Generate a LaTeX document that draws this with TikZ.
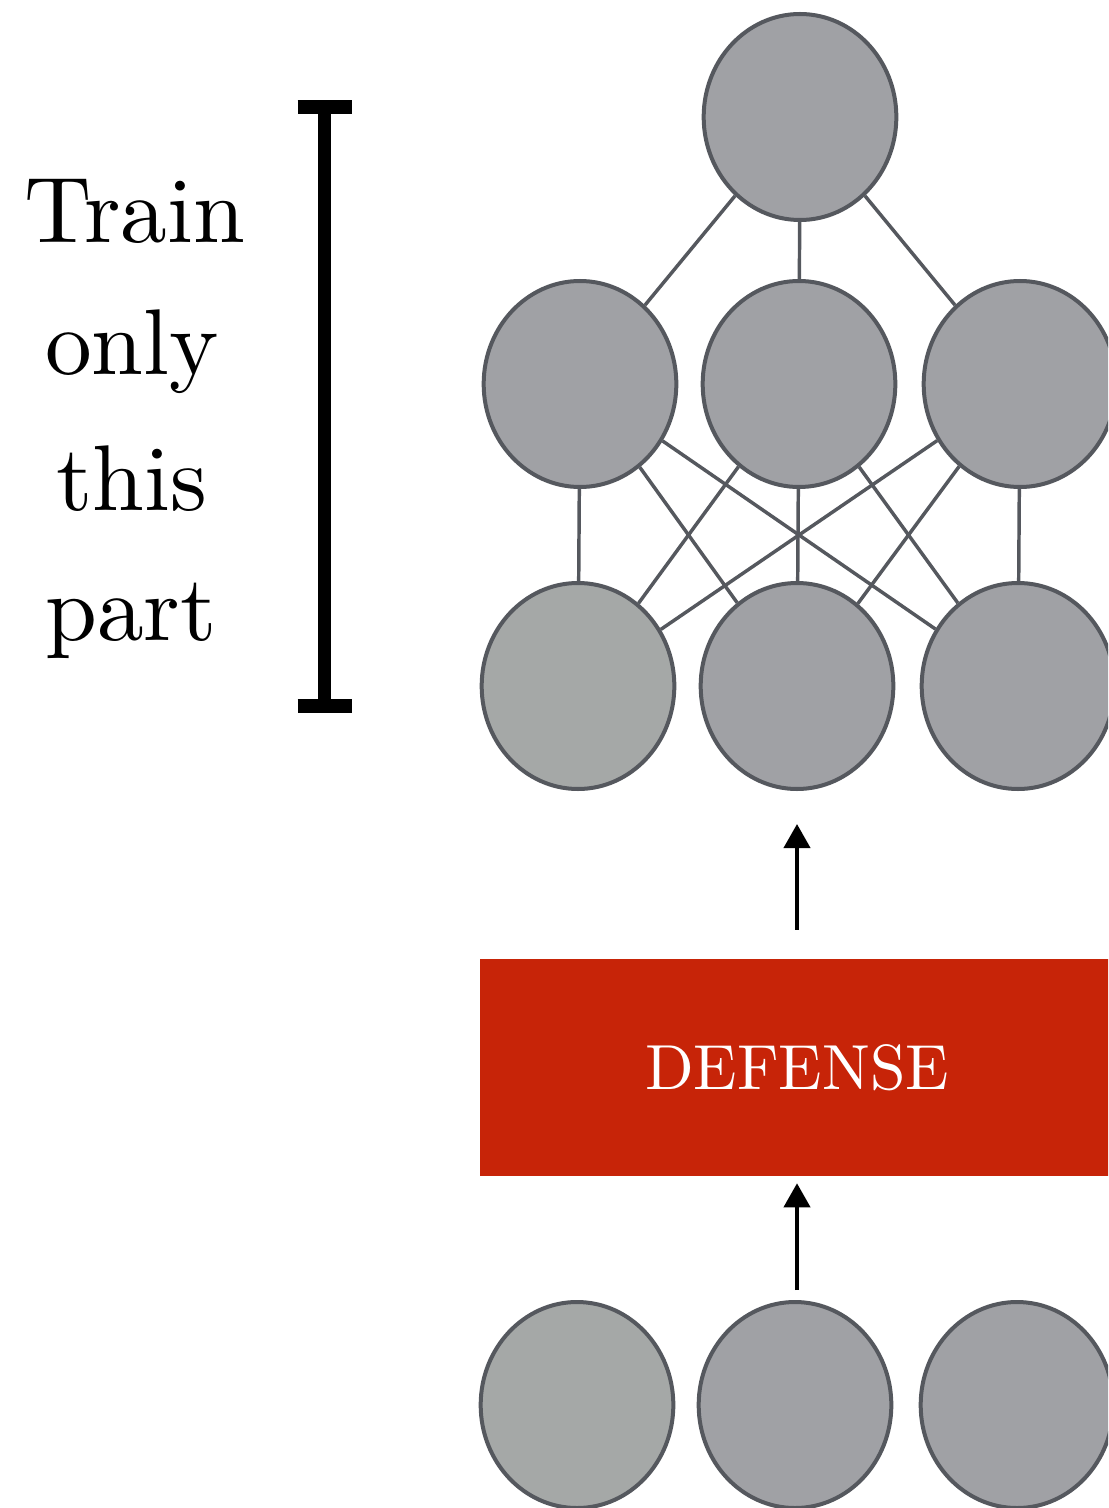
\documentclass[tikz,border=0pt]{standalone}
\usepackage{fontspec}
\setmainfont{lmroman10-regular.otf}
\usetikzlibrary{shapes.geometric,arrows.meta}
\definecolor{unitfill}{HTML}{A0A1A5}
\definecolor{unitfillb}{HTML}{A5A8A7}
\definecolor{unitline}{HTML}{55585E}
\definecolor{defred}{HTML}{C72408}
\tikzset{
  unit/.style={ellipse, draw=unitline, line width=3pt, fill=unitfill,
    minimum width=144.5pt, minimum height=154.5pt, inner sep=0pt},
  unitb/.style={unit, fill=unitfillb},
  link/.style={draw=unitline, line width=2.6pt},
  flow/.style={draw=black, line width=3pt, -{Triangle[width=19.5pt,length=18pt]}},
  bracket/.style={draw=black, line width=10pt},
  label/.style={font=\fontsize{70}{90}\selectfont, anchor=base, inner sep=0pt},
  defbox/.style={rectangle, fill=defred, text=white, inner sep=0pt,
    minimum width=475.5pt, minimum height=162.75pt,
    font=\fontsize{47.8}{56}\selectfont}
}
\begin{document}
\begin{tikzpicture}[x=0.75pt, y=-0.75pt]
  \useasboundingbox (0,0) rectangle (1108,1508);
  \clip (0,0) rectangle (1108,1508);

  % output unit
  \node[unit] (o) at (800,117) {};
  % hidden layer
  \node[unit] (h1) at (580,384) {};
  \node[unit] (h2) at (799,384) {};
  \node[unit] (h3) at (1020,384) {};
  % first layer
  \node[unitb] (b1) at (578,686) {};
  \node[unit]  (b2) at (797,686) {};
  \node[unit]  (b3) at (1018,686) {};
  % inputs
  \node[unitb] (i1) at (577,1405) {};
  \node[unit]  (i2) at (795,1405) {};
  \node[unit]  (i3) at (1017,1405) {};

  % connections
  \foreach \h in {h1,h2,h3} \draw[link] (o) -- (\h);
  \foreach \h in {h1,h2,h3}
    \foreach \b in {b1,b2,b3}
      \draw[link] (\h) -- (\b);

  % defense block
  \node[defbox] (def) at (797,1067.5) {DEFENSE};
  \draw[flow, shorten <=21.75pt, shorten >=24.75pt] (def) -- (b2);
  \draw[flow, shorten <=7.5pt, shorten >=5.25pt] (i2.north -| def.center) -- (def);

  % bracket marking the trained part
  \coordinate (bt) at (324.5,107);
  \coordinate (bb) at (324.5,706);
  \draw[bracket] (bt) -- (bb);
  \draw[bracket] ([xshift=-20.25pt]bt) -- ([xshift=20.25pt]bt);
  \draw[bracket] ([xshift=-20.25pt]bb) -- ([xshift=20.25pt]bb);

  % caption
  \node[label] (l1) at (135,243) {Train};
  \node[label] (l2) at (132,375) {only};
  \node[label] (l3) at (132,510) {this};
  \node[label] (l4) at (131,640) {part};
\end{tikzpicture}
\end{document}
